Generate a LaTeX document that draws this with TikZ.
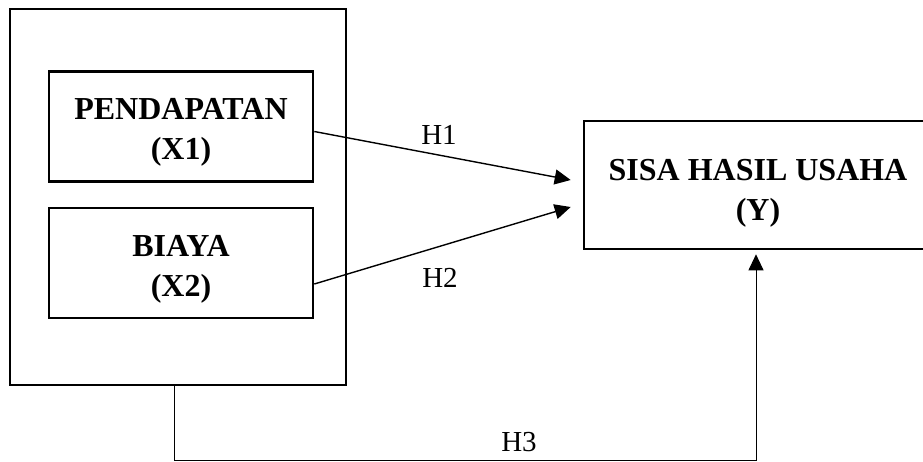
\documentclass[tikz,border=0pt]{standalone}
\usepackage{fontspec}
\setmainfont{Liberation Serif}
\usetikzlibrary{arrows.meta}
\begin{document}
\begin{tikzpicture}[x=1pt,y=-1pt,
    box/.style={draw,line width=2.6pt,minimum width=264pt,minimum height=110pt,inner sep=0pt,
      align=center,font=\fontsize{32}{40}\selectfont\bfseries},
    arr/.style={line width=1.4pt,-{Triangle[length=16pt,width=15pt]}},
    hyp/.style={font=\fontsize{29}{34}\selectfont}]
      \useasboundingbox (0,0) rectangle (923,461);

      \node[draw,line width=2.6pt,minimum width=336pt,minimum height=376pt] (grp) at (178,197) {};

      \node[box] (x1) at (181,126.5) {\rule{0pt}{33pt}PENDAPATAN\\(X1)};
      \node[box] (x2) at (181,263) {\rule{0pt}{33pt}BIAYA\\(X2)};
      \node[box,minimum width=348pt,minimum height=128pt] (y) at (758,185) {\rule{0pt}{38pt}SISA HASIL USAHA\\(Y)};

      \node[hyp] (h1) at (439,135) {H1};
      \node[hyp] (h2) at (440,278) {H2};
      \node[hyp] (h3) at (519,442) {H3};

      \coordinate (c) at (756,460);

      \draw [arr] ([yshift=-5pt]x1.east) -- ([xshift=-12pt,yshift=5pt]y.west);
      \draw [arr] ([yshift=-21pt]x2.east) -- ([xshift=-12pt,yshift=-22pt]y.west);
      \draw [arr,line width=1pt] ([xshift=-4pt]grp.south) |- (c) -- ([xshift=-2pt,yshift=-4pt]y.south);

    \end{tikzpicture}
\end{document}
